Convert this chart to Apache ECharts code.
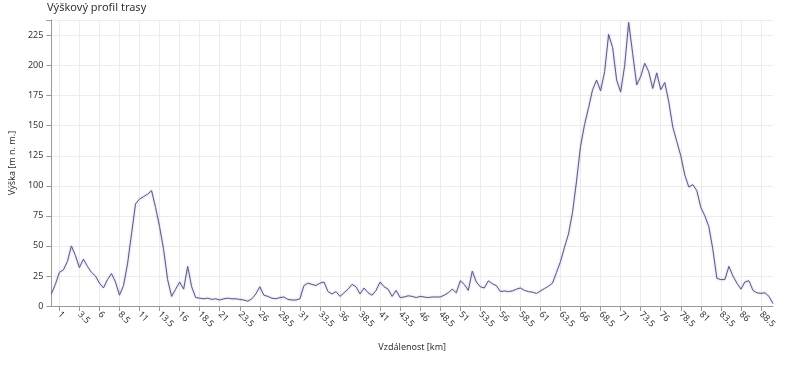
<!DOCTYPE html>
<html><head><meta charset="utf-8">
<script src="https://cdn.jsdelivr.net/npm/echarts@6/dist/echarts.min.js"></script>
<style>html,body{margin:0;padding:0;background:#fff}#c{width:800px;height:367px}</style>
</head><body><div id="c"></div>
<script>
const titleText = 'Výškový profil trasy';
const xName = 'Vzdálenost [km]';
const yName = 'Výška [m n. m.]';
const stepKm = 0.5;
const elevation = [
10,18,28,30,37,50,42,32,39,33,
28,25,19,15,22,27,20,9,17,35,
60,85,89,91,93,96,82,66,47,22,
8,14,20,14,33,16,7,6.5,6,6.5,
5.5,6,5,6,6.5,6,6,5.5,5,4,
6,10,16,9,8,6.5,6,7,7.5,5.5,
5,5,6,17,19,18,17,19,20,12,
10,12,8,11,14,18,16,10,15,11,
9,13,20,16,14,8,13,7,7.5,8.5,
8,7,8,7.5,7,7.5,7.5,7.5,9,11,
14,11,21,18,13,29,20,16,15,21,
18.5,17,12,12.5,12,12.5,14,15,13,12,
11.5,10.5,12.5,14.5,16.5,19,28,37,49,60,
78,104,133,151,165,180,188,179,195,226,
215,188,178,200,236,210,184,191,202,195,
181,194,180,186,170,149,137,125,109,99,
101,96,82,75,66,47,23,22,22,33,
25,19,14,20,21,13,11,10.5,11,8,
2
];
const distances = elevation.map((_, i) => String(+(i * stepKm).toFixed(1)));
const yTicks = [0,25,50,75,100,125,150,175,200,225];
const yMax = 238;

const showIdx = (i) => (i - 2) % 5 === 0 && i >= 2;
const chart = echarts.init(document.getElementById('c'), null, {renderer:'canvas'});
chart.setOption({
  animation:false,
  title:{text:titleText,left:42,top:-3,textStyle:{fontFamily:'Noto Sans',fontSize:11,fontWeight:'normal',color:'#333'}},
  grid:{left:47,right:27,top:20,bottom:61},
  xAxis:{
    type:'category',data:distances,boundaryGap:false,
    name:xName,nameLocation:'middle',nameGap:37,
    nameTextStyle:{fontFamily:'Noto Sans',fontSize:9,color:'#333'},
    axisLine:{lineStyle:{color:'#999'}},
    axisTick:{interval:showIdx,length:5,lineStyle:{color:'#999'}},
    axisLabel:{interval:showIdx,rotate:-45,fontFamily:'Noto Sans',fontSize:9,color:'#333',margin:7},
    splitLine:{show:true,interval:showIdx,lineStyle:{color:'#ececec'}}
  },
  yAxis:{
    type:'value',min:0,max:yMax,interval:25,
    name:yName,nameLocation:'middle',nameGap:33,
    nameTextStyle:{fontFamily:'Noto Sans',fontSize:9,color:'#333'},
    axisLine:{show:true,lineStyle:{color:'#999'}},
    axisTick:{show:true,length:5,lineStyle:{color:'#999'}},
    axisLabel:{fontFamily:'Noto Sans',fontSize:9,color:'#333',margin:8,
      formatter:(v)=>yTicks.includes(v)?String(v):''},
    splitLine:{show:true,lineStyle:{color:'#ececec'}}
  },
  series:[{
    type:'line',data:elevation,symbol:'none',smooth:false,
    lineStyle:{color:'#5a5a88',width:1,shadowBlur:2,shadowColor:'rgba(110,110,180,0.55)'}
  }]
});
</script></body></html>
